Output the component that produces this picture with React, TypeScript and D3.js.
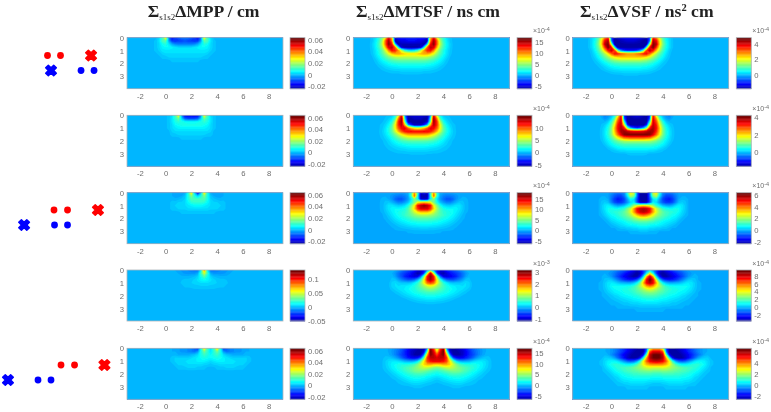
import { useEffect, useRef } from "react";
import * as d3 from "d3";

const COLUMN_TITLES = ["MPP / cm", "MTSF / ns cm", "VSF / ns"];
const COLUMN_X = [127, 353.3, 572.7];
const BAR_X = [290, 517, 736.3];
const TITLE_X = [147.7, 356, 580];
const ROW_Y = [37.7, 115.3, 192.7, 270, 348.3];

// symmetry axis of each row, in cm
const CENTERS = [1.5, 2, 2.5, 3, 3.5];
const X_TICKS = [-2, 0, 2, 4, 6, 8];
const Y_TICKS = [0, 1, 2, 3];

// colour bar limits and ticks: [column][row]
const BAR_DOMAINS = [
  [[-0.0245, 0.064], [-0.0245, 0.064], [-0.0245, 0.064], [-0.05, 0.132], [-0.0245, 0.064]],
  [[-6.2, 16.8], [-5.7, 15.1], [-6.45, 18], [-1.14, 3.14], [-6.56, 17.2]],
  [[-1.76, 4.77], [-1.6, 4.23], [-2.28, 6.34], [-3.4, 9.4], [-2.6, 6.74]],
];
const MPP_TICKS = [-0.02, 0, 0.02, 0.04, 0.06];
const BAR_TICKS = [
  [MPP_TICKS, MPP_TICKS, MPP_TICKS, [-0.05, 0, 0.05, 0.1], MPP_TICKS],
  [[-5, 0, 5, 10, 15], [-5, 0, 5, 10], [-5, 0, 5, 10, 15], [-1, 0, 1, 2, 3], [-5, 0, 5, 10, 15]],
  [[0, 2, 4], [0, 2, 4], [-2, 0, 2, 4, 6], [-2, 0, 2, 4, 6, 8], [-2, 0, 2, 4, 6]],
];
const EXPONENTS = [
  ["", "", "", "", ""],
  ["-4", "-4", "-4", "-3", "-4"],
  ["-4", "-4", "-4", "-4", "-4"],
];

// values, half profile from the symmetry axis outwards, missing = 0
// columns are 0.25 cm apart, rows are 0.25 cm apart
const mpp1 = [
  [-0.006, -0.007, -0.009, -0.012, -0.016, -0.006, 0.03, 0.012, 0.003],
  [-0.009, -0.01, -0.011, -0.012, -0.011, -0.002, 0.014, 0.012, 0.004, 0.001],
  [-0.005, -0.005, -0.005, -0.004, -0.001, 0.004, 0.009, 0.007, 0.003, 0.001],
  [0.003, 0.003, 0.003, 0.004, 0.005, 0.006, 0.006, 0.005, 0.003, 0.001],
  [0.004, 0.004, 0.004, 0.004, 0.004, 0.004, 0.004, 0.004, 0.002, 0.001],
  [0.003, 0.003, 0.003, 0.003, 0.003, 0.003, 0.003, 0.002, 0.001],
  [0.002, 0.002, 0.002, 0.002, 0.002, 0.002, 0.001, 0.001],
  [0.001, 0.001, 0.001, 0.001, 0.001],
];
const mpp2 = [
  [-0.016, -0.017, -0.016, -0.005, 0.03, 0.012, 0.003, 0.001],
  [-0.01, -0.01, -0.008, 0.002, 0.016, 0.01, 0.004, 0.001],
  [0.006, 0.006, 0.007, 0.008, 0.01, 0.008, 0.004, 0.001],
  [0.008, 0.008, 0.008, 0.008, 0.007, 0.006, 0.003, 0.001],
  [0.005, 0.005, 0.005, 0.005, 0.005, 0.004, 0.003, 0.001],
  [0.003, 0.003, 0.003, 0.003, 0.003, 0.003, 0.002],
  [0.002, 0.002, 0.002, 0.002, 0.002, 0.001, 0.001],
  [0.001, 0.001, 0.001, 0.001],
];
const mpp3 = [
  [-0.02, 0, 0.032, 0.008, -0.001, -0.002, -0.002, -0.002, -0.001],
  [0.002, 0.008, 0.018, 0.008, 0.001, -0.001, -0.002, -0.002, -0.001],
  [0.012, 0.012, 0.013, 0.008, 0.002, 0.001, 0, -0.0005],
  [0.01, 0.01, 0.009, 0.006, 0.003, 0.002, 0.002, 0.001, 0.001],
  [0.006, 0.006, 0.005, 0.004, 0.003, 0.003, 0.002, 0.002, 0.001],
  [0.003, 0.003, 0.003, 0.003, 0.002, 0.002, 0.002, 0.001, 0.001],
  [0.001, 0.001, 0.001, 0.001, 0.001, 0.001],
];
const mpp4 = [
  [0.08, 0.01, -0.012, -0.012, -0.01, -0.008, -0.006, -0.005, -0.004, -0.002],
  [0.05, 0.022, -0.002, -0.006, -0.006, -0.006, -0.005, -0.004, -0.002],
  [0.028, 0.016, 0.005, 0.001, 0, -0.001, -0.001, -0.001],
  [0.015, 0.012, 0.008, 0.005, 0.003, 0.002, 0.002, 0.001, 0.001],
  [0.007, 0.007, 0.006, 0.005, 0.004, 0.004, 0.003, 0.002],
  [0.004, 0.004, 0.003, 0.003, 0.003, 0.002, 0.002],
  [0.001, 0.001, 0.001, 0.001],
];
const mpp5 = [
  [0.003, 0.012, 0.032, 0.008, -0.012, -0.008, -0.005, -0.004, -0.003, -0.003, -0.002, -0.002, -0.001],
  [0.004, 0.01, 0.016, 0.008, -0.003, -0.006, -0.005, -0.004, -0.003, -0.003, -0.002, -0.001, -0.001],
  [0.006, 0.009, 0.011, 0.008, 0.003, 0.001, 0, -0.001, -0.001, -0.001, -0.001],
  [0.006, 0.007, 0.008, 0.007, 0.005, 0.004, 0.003, 0.002, 0.002, 0.002, 0.002, 0.002, 0.001],
  [0.003, 0.004, 0.005, 0.005, 0.005, 0.004, 0.004, 0.004, 0.003, 0.003, 0.003, 0.002, 0.001],
  [0.001, 0.002, 0.002, 0.003, 0.003, 0.003, 0.003, 0.003, 0.003, 0.002, 0.002, 0.001],
  [0, 0, 0.001, 0.001, 0.001, 0.002, 0.002, 0.002, 0.001, 0.001, 0.001],
];

const mtsf1 = [
  [-3.5, -3.5, -3.5, -3.5, -3.8, -5.5, 9, 14, 8, 4.5, 2.5, 1.2, 0.5, 0.1],
  [-4, -4, -4.5, -4.5, -5, -5.5, 10, 15.5, 11, 5.5, 3, 1.5, 0.6, 0.15],
  [-5.5, -5.5, -5.5, -5.5, -6, 1, 13, 16, 11, 6, 3.3, 1.7, 0.8, 0.2],
  [-6, -6, -6, -5, 1.5, 11, 15, 14, 9, 5, 3, 1.6, 0.7, 0.2],
  [1, 1.5, 3, 6, 10, 12.5, 13, 10, 6.5, 4, 2.4, 1.3, 0.6, 0.15],
  [8, 8, 8.5, 9, 9.5, 9.5, 8.5, 7, 5, 3.5, 2.2, 1.2, 0.5, 0.1],
  [6, 6, 6, 6, 6, 5.8, 5.2, 4.5, 3.6, 2.6, 1.6, 0.9, 0.3],
  [4, 4, 4, 4, 4, 3.8, 3.4, 3, 2.4, 1.7, 1.1, 0.5, 0.15],
  [2.6, 2.6, 2.6, 2.6, 2.5, 2.4, 2.2, 1.9, 1.5, 1.1, 0.7, 0.3, 0.1],
  [1.6, 1.6, 1.6, 1.6, 1.5, 1.4, 1.3, 1.1, 0.9, 0.6, 0.35, 0.1],
  [0.9, 0.9, 0.9, 0.9, 0.8, 0.8, 0.7, 0.6, 0.45, 0.3, 0.1],
  [0.4, 0.4, 0.4, 0.4, 0.3, 0.3, 0.3, 0.2, 0.1],
  [0.1, 0.1, 0.1],
];
const mtsf2 = [
  [-4.5, -4.5, -4.5, -5, -1, 12, 5.5, 1.5, 0.4, 0.2, 0.1],
  [-5, -5, -5.5, -5.5, 1, 14, 9, 3, 1, 0.5, 0.2],
  [-5.7, -5.7, -5.7, -4.5, 3, 14, 11, 5, 2, 0.9, 0.4, 0.1],
  [-5, -5, -3, 0, 8, 13.5, 11, 6.5, 3, 1.5, 0.7, 0.3, 0.1],
  [6, 6.5, 8, 10, 12.5, 12, 10, 6.5, 3.5, 2, 1, 0.4, 0.1],
  [12, 12, 12, 12, 11.5, 10, 8, 5.5, 3.3, 2, 1.1, 0.5, 0.15],
  [8.5, 8.5, 8.5, 8.3, 7.5, 6.5, 5.2, 3.8, 2.6, 1.6, 0.9, 0.4, 0.1],
  [5.5, 5.5, 5.4, 5.2, 4.8, 4.2, 3.4, 2.6, 1.8, 1.1, 0.6, 0.25, 0.05],
  [3.2, 3.2, 3.2, 3.1, 2.9, 2.6, 2.2, 1.7, 1.2, 0.7, 0.35, 0.1],
  [2, 2, 2, 1.9, 1.8, 1.6, 1.4, 1.1, 0.8, 0.5, 0.25, 0.05],
  [1.2, 1.2, 1.2, 1.1, 1, 0.9, 0.8, 0.6, 0.45, 0.3, 0.1],
  [0.6, 0.6, 0.6, 0.6, 0.5, 0.45, 0.4, 0.3, 0.2, 0.1],
  [0.2, 0.2, 0.2, 0.15, 0.15, 0.1, 0.1, 0.05],
];
const mtsf3 = [
  [-4, -5.5, 3, 11, 3, 0, -0.3, -0.4, -0.3, -0.2, -0.1],
  [-6, -6, 2, 12, 3, -0.3, -1, -1.3, -1.2, -1, -0.6, -0.2],
  [-5.5, -5, 2, 5, 1.5, -0.5, -1.5, -2.2, -2.2, -1.6, -0.6, 0, 0.3, 0.1],
  [9, 8.5, 8, 5, 2.5, 0.6, -0.3, -0.9, -0.9, -0.3, 0.3, 0.8, 0.6, 0.2],
  [17, 16, 14, 8, 5, 2.6, 1.3, 0.9, 0.8, 1.1, 1.5, 1.4, 0.8, 0.2],
  [15, 15, 13, 9, 6, 3.7, 2.6, 2.2, 2, 2, 1.8, 1.4, 0.8, 0.2],
  [9.5, 9.5, 8.5, 7, 5.2, 3.9, 3, 2.7, 2.4, 2.1, 1.6, 1.1, 0.6, 0.1],
  [6, 6, 5.7, 5.2, 4.5, 3.8, 3.2, 2.7, 2.3, 1.8, 1.3, 0.8, 0.3],
  [4, 4, 3.9, 3.7, 3.3, 2.9, 2.5, 2.2, 1.8, 1.4, 0.9, 0.5, 0.1],
  [2.8, 2.8, 2.7, 2.5, 2.4, 2.1, 1.8, 1.5, 1.2, 0.9, 0.5, 0.2],
  [1.8, 1.8, 1.7, 1.6, 1.5, 1.3, 1.1, 0.9, 0.7, 0.4, 0.2],
  [0.9, 0.9, 0.8, 0.8, 0.7, 0.6, 0.5, 0.4, 0.2, 0.1],
  [0.2, 0.2, 0.2, 0.2, 0.1, 0.1],
];
const mtsf4 = [
  [0.4, -0.2, -0.7, -0.9, -0.8, -0.6, -0.5, -0.4, -0.3, -0.2, -0.1],
  [2.7, 1, -0.5, -1, -1.1, -0.9, -0.7, -0.6, -0.5, -0.4, -0.25, -0.1],
  [3, 2.4, 0.8, -0.3, -0.8, -0.9, -0.8, -0.7, -0.6, -0.4, -0.25, -0.05, 0.05],
  [2.9, 2.5, 1.4, 0.5, 0, -0.3, -0.4, -0.4, -0.3, -0.2, -0.05, 0.1, 0.1],
  [2.2, 2, 1.4, 0.9, 0.5, 0.3, 0.15, 0.1, 0.1, 0.1, 0.15, 0.2, 0.15, 0.05],
  [1.3, 1.2, 1, 0.8, 0.6, 0.45, 0.35, 0.3, 0.25, 0.25, 0.2, 0.2, 0.15, 0.05],
  [0.9, 0.85, 0.75, 0.65, 0.55, 0.45, 0.4, 0.33, 0.28, 0.22, 0.2, 0.15, 0.1, 0.03],
  [0.6, 0.6, 0.55, 0.5, 0.45, 0.4, 0.33, 0.28, 0.22, 0.18, 0.12, 0.08, 0.03],
  [0.4, 0.4, 0.38, 0.35, 0.3, 0.27, 0.22, 0.18, 0.14, 0.1, 0.05, 0.02],
  [0.25, 0.25, 0.22, 0.2, 0.18, 0.15, 0.12, 0.08, 0.05, 0.02],
  [0.12, 0.12, 0.1, 0.1, 0.08, 0.06, 0.04, 0.02],
  [0.03, 0.03, 0.02],
];
const mtsf5 = [
  [4, 12, 16, -1, -6, -6.5, -6, -5.5, -5, -4, -3, -2.2, -1.5, -1, -0.6, -0.3, -0.1],
  [8, 14, 17, 3, -5, -6.5, -6.5, -6, -5.5, -4.5, -3.5, -2.5, -1.8, -1.2, -0.7, -0.3, -0.1],
  [12, 15, 16.5, 9, -1.5, -6, -6.5, -6.3, -5.5, -4.5, -3.5, -2.8, -2, -1.2, -0.6, -0.2],
  [14.5, 15, 15, 12.5, 4, -2, -4, -4.5, -4.3, -3.7, -2.9, -2, -1, -0.3, 0.2, 0.4, 0.3],
  [14, 14, 13.5, 12, 8, 4, 1, -0.2, -0.5, -0.3, 0, 0.5, 1, 1.2, 1.2, 0.9, 0.5, 0.1],
  [8.5, 8.8, 9.5, 9.5, 8.5, 6.5, 4.5, 3.3, 2.7, 2.4, 2.3, 2.3, 2.1, 1.8, 1.4, 1, 0.5, 0.1],
  [4.5, 4.8, 5.5, 6, 6.3, 5.8, 5, 4.3, 3.8, 3.4, 3, 2.6, 2.2, 1.7, 1.3, 0.8, 0.4, 0.1],
  [2.7, 3, 3.4, 3.9, 4.3, 4.5, 4.5, 4.2, 3.6, 3.2, 2.7, 2.2, 1.8, 1.3, 0.9, 0.5, 0.2],
  [1.7, 1.9, 2.2, 2.5, 2.9, 3.1, 3.1, 3, 2.7, 2.4, 2, 1.6, 1.2, 0.8, 0.5, 0.2],
  [0.9, 1, 1.3, 1.5, 1.8, 2, 2.1, 2.1, 1.9, 1.6, 1.3, 1, 0.7, 0.4, 0.2],
  [0.3, 0.5, 0.7, 0.9, 1.1, 1.2, 1.3, 1.3, 1.2, 1, 0.7, 0.5, 0.3, 0.1],
  [0, 0.1, 0.2, 0.3, 0.5, 0.6, 0.7, 0.7, 0.6, 0.4, 0.3, 0.2, 0.1],
  [0, 0, 0, 0, 0.1, 0.2, 0.2, 0.2, 0.1],
];

const vsf1 = [
  [-1.2, -1.2, -1.2, -1.3, -1.5, -1.7, -0.6, 3.6, 3, 1.9, 1, 0.5, 0.25, 0.08],
  [-1.4, -1.4, -1.5, -1.6, -1.7, -1.7, -0.3, 4.3, 3.8, 2.3, 1.2, 0.6, 0.3, 0.1],
  [-1.7, -1.7, -1.7, -1.7, -1.7, -1.7, 1.5, 4.6, 4.2, 2.4, 1.3, 0.7, 0.3, 0.1],
  [-1.7, -1.7, -1.7, -1.7, -1.7, 0.7, 3.8, 4.6, 3.4, 2, 1.1, 0.6, 0.3, 0.1],
  [-1, -1, -0.8, -0.3, 1, 3.4, 4.2, 3.6, 2.5, 1.6, 0.95, 0.5, 0.2, 0.05],
  [2.8, 2.8, 3, 3.2, 3.6, 3.7, 3, 2.2, 1.6, 1.1, 0.7, 0.35, 0.15],
  [2.5, 2.5, 2.5, 2.5, 2.4, 2.2, 1.9, 1.5, 1.15, 0.8, 0.5, 0.25, 0.1],
  [1.6, 1.6, 1.6, 1.6, 1.5, 1.4, 1.2, 1, 0.75, 0.5, 0.3, 0.15, 0.05],
  [0.95, 0.95, 0.95, 0.95, 0.9, 0.85, 0.75, 0.6, 0.45, 0.3, 0.15, 0.08],
  [0.6, 0.6, 0.6, 0.6, 0.55, 0.5, 0.45, 0.35, 0.25, 0.15, 0.08],
  [0.35, 0.35, 0.35, 0.35, 0.3, 0.3, 0.25, 0.2, 0.15, 0.08],
  [0.18, 0.18, 0.18, 0.15, 0.15, 0.12, 0.1, 0.06],
  [0.05, 0.05, 0.05],
];
const vsf2 = [
  [-1.2, -1.3, -1.4, -1.6, -0.8, 3.2, 1.5, 0.4, 0, -0.2, -0.3, -0.1],
  [-1.5, -1.5, -1.6, -1.6, -0.5, 3.5, 2.4, 0.9, 0.2, -0.1, -0.2, -0.05],
  [-1.6, -1.6, -1.6, -1.5, 0.5, 3.6, 2.9, 1.5, 0.6, 0.15, 0, 0.02],
  [-1.6, -1.6, -1.6, -0.8, 1.8, 3.7, 3.2, 1.9, 0.9, 0.4, 0.15, 0.05],
  [-0.8, -0.5, 0, 1.2, 3.3, 3.8, 3.3, 2.2, 1.1, 0.55, 0.25, 0.08],
  [3.4, 3.4, 3.5, 3.7, 3.9, 3.8, 3.1, 2.1, 1.15, 0.6, 0.3, 0.1],
  [4.1, 4.1, 4.1, 4.1, 4, 3.4, 2.7, 1.9, 1.1, 0.6, 0.3, 0.1],
  [2.8, 2.8, 2.8, 2.7, 2.6, 2.2, 1.8, 1.3, 0.85, 0.5, 0.25, 0.08],
  [1.4, 1.4, 1.4, 1.4, 1.35, 1.2, 1.05, 0.85, 0.6, 0.35, 0.2, 0.05],
  [0.8, 0.8, 0.8, 0.8, 0.8, 0.75, 0.65, 0.55, 0.4, 0.25, 0.1],
  [0.5, 0.5, 0.5, 0.5, 0.5, 0.45, 0.4, 0.3, 0.2, 0.1],
  [0.25, 0.25, 0.25, 0.25, 0.2, 0.2, 0.15, 0.1, 0.05],
  [0.07, 0.07, 0.07, 0.05],
];
const vsf3 = [
  [-2.2, -2.2, -0.5, 2.5, 3, 1, -0.3, -0.5, -0.5, -0.4, -0.2, -0.1],
  [-2.2, -2.2, -0.5, 1.8, 2.2, 0.5, -0.5, -0.9, -0.9, -0.7, -0.4, -0.1],
  [-2.2, -2.2, -0.8, 0.5, 0.8, -0.1, -0.9, -1.2, -1.3, -1, -0.5, 0, 0.1, 0.1],
  [-2.2, -2, -0.8, 0.6, 0.4, -0.2, -0.7, -1, -1, -0.8, -0.3, 0.2, 0.3, 0.2],
  [3, 2.8, 2.5, 1.9, 1.1, 0.6, 0.2, 0, -0.1, 0.1, 0.4, 0.6, 0.5, 0.25],
  [5.8, 5.6, 5, 3.6, 2.4, 1.7, 1.1, 0.9, 0.8, 0.8, 0.9, 0.8, 0.5, 0.25],
  [5.6, 5.4, 4.8, 3.6, 2.6, 1.9, 1.5, 1.2, 1.1, 1, 0.9, 0.7, 0.4, 0.2],
  [4, 3.8, 3.3, 2.7, 2.1, 1.7, 1.4, 1.2, 1, 0.8, 0.7, 0.5, 0.3, 0.1],
  [2.4, 2.3, 2.1, 1.8, 1.5, 1.3, 1.1, 0.9, 0.8, 0.6, 0.5, 0.3, 0.1],
  [1.4, 1.4, 1.3, 1.2, 1, 0.9, 0.7, 0.6, 0.5, 0.4, 0.3, 0.1],
  [0.9, 0.9, 0.8, 0.7, 0.7, 0.6, 0.5, 0.4, 0.3, 0.2, 0.1],
  [0.5, 0.5, 0.4, 0.4, 0.3, 0.3, 0.2, 0.2, 0.1],
  [0.2, 0.2, 0.1, 0.1, 0.1],
];
const vsf4 = [
  [0.5, -0.5, -1.5, -2.5, -2.8, -2.3, -1.8, -1.4, -1.1, -0.9, -0.6, -0.4, -0.2, -0.1],
  [3.5, 1, -1.5, -3, -3.4, -3, -2.6, -2.2, -1.8, -1.4, -1.1, -0.7, -0.4, -0.2],
  [8, 5, 0.5, -2, -3.2, -3.4, -3, -2.6, -2.2, -1.8, -1.3, -0.8, -0.3, 0, 0.1],
  [9.3, 7.5, 3.5, 0.3, -1.2, -1.8, -2, -1.9, -1.6, -1.1, -0.6, -0.1, 0.3, 0.4, 0.3],
  [8.5, 7.6, 5.2, 2.6, 1, 0.3, 0, 0, 0.1, 0.2, 0.4, 0.7, 0.8, 0.7, 0.4, 0.1],
  [5.8, 5.3, 4.2, 3.2, 2.2, 1.6, 1.3, 1.2, 1.1, 1.1, 1.1, 1.1, 1, 0.7, 0.4, 0.1],
  [3.8, 3.6, 3.1, 2.6, 2.2, 1.8, 1.6, 1.4, 1.3, 1.2, 1.1, 1, 0.8, 0.6, 0.3, 0.1],
  [2.7, 2.6, 2.4, 2.1, 1.9, 1.6, 1.4, 1.3, 1.2, 1, 0.9, 0.8, 0.6, 0.4, 0.2],
  [1.9, 1.9, 1.8, 1.6, 1.4, 1.3, 1.1, 1, 0.9, 0.8, 0.6, 0.5, 0.3, 0.2, 0.1],
  [1.3, 1.3, 1.2, 1.1, 1, 0.9, 0.8, 0.7, 0.6, 0.5, 0.4, 0.3, 0.2, 0.1],
  [0.8, 0.8, 0.8, 0.7, 0.6, 0.6, 0.5, 0.4, 0.4, 0.3, 0.2, 0.1, 0.1],
  [0.4, 0.4, 0.4, 0.4, 0.3, 0.3, 0.3, 0.2, 0.2, 0.1, 0.1],
  [0.1, 0.1, 0.1, 0.1, 0.1],
];
const vsf5 = [
  [3.5, 3.5, 2.5, -1, -2.4, -2.6, -2.4, -2.2, -2, -1.6, -1.3, -1, -0.7, -0.5, -0.3, -0.2, -0.1],
  [5.5, 5.5, 4.5, -0.5, -2.5, -2.6, -2.6, -2.4, -2.1, -1.8, -1.4, -1.1, -0.8, -0.5, -0.3, -0.2, -0.1],
  [6.7, 6.6, 5.8, 1.5, -1.8, -2.6, -2.6, -2.6, -2.4, -2.1, -1.8, -1.4, -1, -0.7, -0.4, -0.1],
  [6.7, 6.6, 6, 3.8, 0.8, -1.6, -2.4, -2.6, -2.5, -2.2, -1.7, -1.2, -0.7, -0.2, 0.1, 0.2, 0.2],
  [5.8, 5.7, 5.4, 4.5, 3, 1, -0.2, -0.8, -0.9, -0.8, -0.4, 0, 0.4, 0.6, 0.6, 0.5, 0.3, 0.1],
  [4, 4, 3.9, 3.6, 3, 2.1, 1.3, 0.8, 0.6, 0.6, 0.7, 0.9, 1, 1, 0.8, 0.6, 0.3, 0.1],
  [2.5, 2.5, 2.6, 2.5, 2.3, 2, 1.8, 1.6, 1.4, 1.3, 1.2, 1.1, 1, 0.8, 0.6, 0.4, 0.2],
  [1.7, 1.7, 1.8, 1.8, 1.7, 1.6, 1.5, 1.4, 1.3, 1.2, 1.1, 0.9, 0.8, 0.6, 0.4, 0.2, 0.1],
  [1.1, 1.1, 1.2, 1.2, 1.2, 1.2, 1.1, 1.1, 1, 0.9, 0.8, 0.7, 0.5, 0.4, 0.2, 0.1],
  [0.7, 0.7, 0.8, 0.8, 0.8, 0.8, 0.8, 0.8, 0.7, 0.7, 0.6, 0.5, 0.3, 0.2, 0.1],
  [0.4, 0.4, 0.4, 0.5, 0.5, 0.5, 0.5, 0.5, 0.5, 0.4, 0.4, 0.3, 0.2, 0.1],
  [0.1, 0.1, 0.2, 0.2, 0.3, 0.3, 0.3, 0.3, 0.3, 0.2, 0.2, 0.1, 0.1],
  [0, 0, 0, 0.1, 0.1, 0.1, 0.1, 0.1, 0.1, 0.1],
];

const MAPS = [
  [mpp1, mpp2, mpp3, mpp4, mpp5],
  [mtsf1, mtsf2, mtsf3, mtsf4, mtsf5],
  [vsf1, vsf2, vsf3, vsf4, vsf5],
];

// source/detector sketches on the left, schematic units
const SKETCH_ROW_Y = [55.5, 210, 365];
const RED_DOTS = [[0, 1], [0.5, 1.54], [1.04, 2.08]];
const RED_CROSS = [3.35, 3.88, 4.38];
const BLUE_DOTS = [[2.58, 3.58], [0.54, 1.54], [-0.73, 0.27]];
const BLUE_CROSS = [0.27, -1.8, -3.04];

const PANEL_W = 156;
const PANEL_H = 51;
const BAR_W = 15;
const BANDS = 64;
const GRID_STEP = 0.25;
const TICK_COLOR = "#6e6e6e";
const EDGE_COLOR = "#aeb4ba";
const FONT_SIZE = 7.7;

// MATLAB's jet; the small shift brings the zero level to the light blue of the picture
function jet(t: number) {
  const s = t + 0.03;
  const f = (a: number) => Math.round(255 * Math.max(0, Math.min(1, 1.5 - Math.abs(4 * s - a))));
  return `rgb(${f(3)},${f(2)},${f(1)})`;
}

export default function App() {
  const svgRef = useRef<SVGSVGElement>(null);

  useEffect(() => {
    const svg = d3.select(svgRef.current);
    svg.selectAll("*").remove();

    const defs = svg.append("defs");
    defs
      .append("filter")
      .attr("id", "soft")
      .attr("x", 0)
      .attr("y", 0)
      .attr("width", 1)
      .attr("height", 1)
      .append("feGaussianBlur")
      .attr("stdDeviation", 0.45);

    const root = svg.append("g").attr("filter", "url(#soft)");
    root.append("rect").attr("width", 771).attr("height", 412).attr("fill", "#fff");

    const xScale = d3.scaleLinear().domain([-3, 9.12]);
    const yScale = d3.scaleLinear().domain([0, 3.95]);
    const sketchX = d3.scaleLinear().domain([0, 1]).range([47.5, 60.5]);

    const styleTicks = (g) =>
      g
        .selectAll("text")
        .attr("fill", TICK_COLOR)
        .attr("font-family", "Liberation Sans")
        .attr("font-size", FONT_SIZE);

    MAPS.forEach((panels, col) => {
      panels.forEach((rows, row) => {
        const left = COLUMN_X[col];
        const top = ROW_Y[row];
        const x = xScale.copy().range([left, left + PANEL_W]);
        const y = yScale.copy().range([top, top + PANEL_H]);
        const [vMin, vMax] = BAR_DOMAINS[col][row];
        const center = CENTERS[row];

        const clipId = `clip-${col}-${row}`;
        defs
          .append("clipPath")
          .attr("id", clipId)
          .append("rect")
          .attr("x", left)
          .attr("y", top)
          .attr("width", PANEL_W)
          .attr("height", PANEL_H);

        // mirror the half profile about the symmetry axis onto a full grid
        const halfCols = Math.ceil(8 / GRID_STEP);
        const nx = 2 * halfCols + 1;
        const ny = 17;
        const grid: number[] = [];
        for (let j = 0; j < ny; j++) {
          for (let i = 0; i < nx; i++) {
            const rowValues = rows[j] ?? [];
            grid.push(rowValues[Math.abs(i - halfCols)] ?? 0);
          }
        }

        const step = (vMax - vMin) / BANDS;
        const levels = d3.range(BANDS).map((k) => vMin + k * step);
        const contours = d3.contours().size([nx, ny]).thresholds(levels)(grid);
        const project = d3.geoTransform({
          point(px, py) {
            this.stream.point(
              x(center + (px - 0.5 - halfCols) * GRID_STEP),
              y((py - 0.5) * GRID_STEP),
            );
          },
        });
        const path = d3.geoPath(project);

        const map = root.append("g").attr("clip-path", `url(#${clipId})`);
        map
          .append("rect")
          .attr("x", left)
          .attr("y", top)
          .attr("width", PANEL_W)
          .attr("height", PANEL_H)
          .attr("fill", jet(0));
        map
          .selectAll("path")
          .data(contours)
          .join("path")
          .attr("d", path)
          .attr("fill", (_, k) => jet((k + 0.5) / BANDS));

        root
          .append("rect")
          .attr("x", left)
          .attr("y", top)
          .attr("width", PANEL_W)
          .attr("height", PANEL_H)
          .attr("fill", "none")
          .attr("stroke", EDGE_COLOR)
          .attr("stroke-width", 0.8);

        const yAxis = root
          .append("g")
          .attr("transform", `translate(${left},0)`)
          .call(
            d3
              .axisLeft(y)
              .tickValues(Y_TICKS)
              .tickSize(0)
              .tickPadding(3)
              .tickFormat((d) => String(d)),
          );
        yAxis.select(".domain").remove();
        styleTicks(yAxis);

        const xAxis = root
          .append("g")
          .attr("transform", `translate(0,${top + PANEL_H})`)
          .call(
            d3
              .axisBottom(x)
              .tickValues(X_TICKS)
              .tickSize(0)
              .tickPadding(4.5)
              .tickFormat((d) => String(d)),
          );
        xAxis.select(".domain").remove();
        styleTicks(xAxis);

        // colour bar
        const barLeft = BAR_X[col];
        const barScale = d3.scaleLinear().domain([vMin, vMax]).range([top + PANEL_H, top]);
        root
          .append("g")
          .selectAll("rect")
          .data(levels)
          .join("rect")
          .attr("x", barLeft)
          .attr("y", (d) => barScale(d + step))
          .attr("width", BAR_W)
          .attr("height", (d) => barScale(d) - barScale(d + step) + 0.4)
          .attr("fill", (_, k) => jet((k + 0.5) / BANDS));
        root
          .append("rect")
          .attr("x", barLeft)
          .attr("y", top)
          .attr("width", BAR_W)
          .attr("height", PANEL_H)
          .attr("fill", "none")
          .attr("stroke", EDGE_COLOR)
          .attr("stroke-width", 0.8);

        const barAxis = root
          .append("g")
          .attr("transform", `translate(${barLeft + BAR_W},0)`)
          .call(
            d3
              .axisRight(barScale)
              .tickValues(BAR_TICKS[col][row])
              .tickSize(0)
              .tickPadding(3)
              .tickFormat((d) => String(d)),
          );
        barAxis.select(".domain").remove();
        styleTicks(barAxis);

        if (EXPONENTS[col][row]) {
          const label = root
            .append("text")
            .attr("x", barLeft + BAR_W + 1)
            .attr("y", top - 4.5)
            .attr("fill", TICK_COLOR)
            .attr("font-family", "Liberation Sans")
            .attr("font-size", 7)
            .text("×10");
          label
            .append("tspan")
            .attr("dy", -2)
            .attr("font-size", 5.5)
            .text(EXPONENTS[col][row]);
        }
      });
    });

    // column titles
    COLUMN_TITLES.forEach((title, col) => {
      const text = root
        .append("text")
        .attr("x", TITLE_X[col])
        .attr("y", 17)
        .attr("fill", "#222")
        .attr("font-family", "Liberation Serif")
        .attr("font-weight", "bold")
        .attr("font-size", 17.6);
      text.append("tspan").text("Σ");
      text
        .append("tspan")
        .attr("dy", 3)
        .attr("font-size", 9)
        .attr("font-weight", "normal")
        .text("s1s2");
      text.append("tspan").attr("dy", -3).text(`Δ${title}`);
      if (col === 2) {
        text.append("tspan").attr("dy", -6).attr("font-size", 10.5).text("2");
        text.append("tspan").attr("dy", 6).text(" cm");
      }
    });

    // sketches of the source/detector pairs
    const cross = d3.symbol(d3.symbolCross, 72)();
    SKETCH_ROW_Y.forEach((top, i) => {
      const sketch = root.append("g");
      const groups = [
        { color: "#ff0000", cy: top, dots: RED_DOTS[i], mark: RED_CROSS[i] },
        { color: "#0000ff", cy: top + 15, dots: BLUE_DOTS[i], mark: BLUE_CROSS[i] },
      ];
      groups.forEach((g) => {
        sketch
          .selectAll(null)
          .data(g.dots)
          .join("circle")
          .attr("cx", (d) => sketchX(d))
          .attr("cy", g.cy)
          .attr("r", 3.4)
          .attr("fill", g.color);
        sketch
          .append("path")
          .attr("d", cross)
          .attr("transform", `translate(${sketchX(g.mark)},${g.cy}) rotate(45)`)
          .attr("fill", g.color)
          .attr("stroke", g.color)
          .attr("stroke-width", 1.4)
          .attr("stroke-linejoin", "round");
      });
    });
  }, []);

  return (
    <svg
      ref={svgRef}
      width={771}
      height={412}
      style={{ position: "absolute", left: 0, top: 0, display: "block" }}
    />
  );
}
